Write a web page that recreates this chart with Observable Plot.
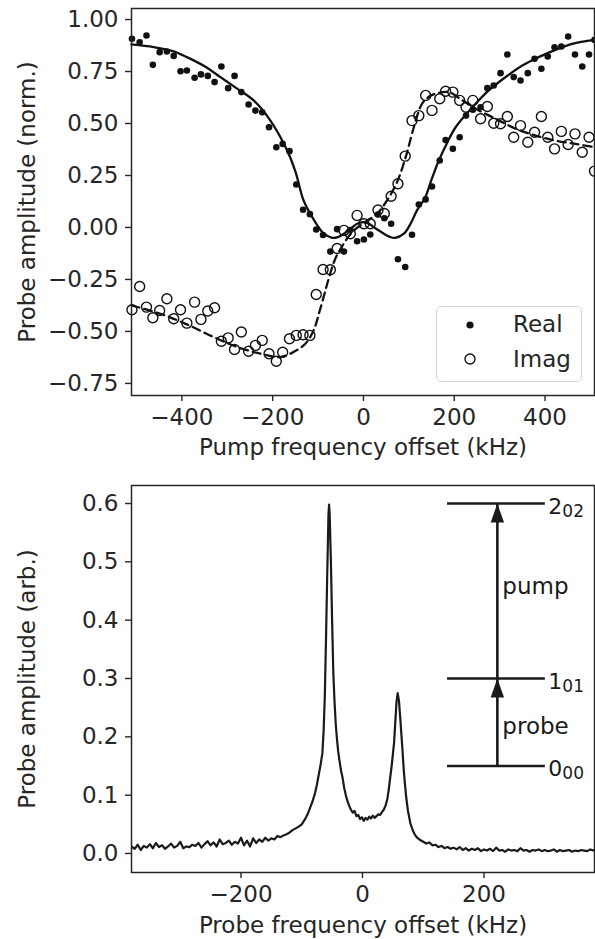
<!DOCTYPE html>
<html><head><meta charset="utf-8">
<script src="https://cdn.jsdelivr.net/npm/d3@7"></script>
<script src="https://cdn.jsdelivr.net/npm/@observablehq/plot@0.6"></script>
<style>
body{margin:0;background:#fff;}
#wrap{position:relative;width:595px;height:939px;font-family:"DejaVu Sans";color:#262626;}
#wrap svg{display:block;}
.legend{position:absolute;left:436px;top:306px;width:144px;height:74px;border:1.5px solid #d4d4d4;border-radius:5px;background:rgba(255,255,255,0.85);}
.legend .lt{position:absolute;left:76px;font-size:23px;line-height:23px;white-space:nowrap;}
.legend svg{position:absolute;left:25px;}
</style></head><body>
<div id="wrap"><div id="topChart"></div><div id="bottomChart"></div>
<div class="legend">
<svg width="16" height="16" style="top:10px"><circle cx="8" cy="8" r="3.6" fill="#111"/></svg>
<div class="lt" style="top:6px">Real</div>
<svg width="16" height="16" style="top:44px"><circle cx="8" cy="8" r="5" fill="none" stroke="#111" stroke-width="1.4"/></svg>
<div class="lt" style="top:41px">Imag</div>
</div></div>
<script>
// ---------- top panel data ----------
const pumpOffsets = [-510,-493,-478,-464,-449,-433,-418,-403,-389,-372,-358,-343,-328,-313,-298,-284,-269,-253,-238,-223,-208,-192,-178,-163,-148,-133,-118,-104,-89,-73,-58,-43,-29,-14,1,15,32,46,61,76,92,107,122,137,151,168,181,197,212,226,241,258,273,287,302,317,331,346,362,377,392,406,421,436,451,466,482,497,509];
const realVals = [0.907,0.891,0.923,0.782,0.843,0.846,0.825,0.751,0.755,0.720,0.736,0.729,0.699,0.774,0.670,0.729,0.651,0.591,0.562,0.554,0.482,0.386,0.402,0.367,0.207,0.085,0.064,-0.010,-0.036,-0.116,-0.008,-0.116,-0.012,-0.066,-0.058,-0.034,0.062,0.044,0.018,-0.153,-0.190,-0.035,0.110,0.135,0.197,0.322,0.421,0.378,0.434,0.538,0.566,0.578,0.670,0.683,0.742,0.832,0.723,0.707,0.742,0.811,0.763,0.822,0.867,0.870,0.918,0.832,0.774,0.832,0.902];
const imagVals = [-0.396,-0.284,-0.383,-0.434,-0.399,-0.343,-0.439,-0.396,-0.460,-0.359,-0.442,-0.402,-0.386,-0.547,-0.531,-0.587,-0.503,-0.595,-0.567,-0.543,-0.607,-0.643,-0.600,-0.535,-0.519,-0.516,-0.519,-0.322,-0.202,-0.203,-0.101,-0.014,-0.030,0.058,0.018,0.018,0.084,0.067,0.150,0.210,0.343,0.514,0.538,0.635,0.563,0.619,0.655,0.651,0.611,0.578,0.611,0.523,0.582,0.501,0.499,0.534,0.434,0.490,0.410,0.458,0.534,0.434,0.378,0.462,0.399,0.450,0.362,0.434,0.271];
const realFitX = [-511,-462,-420,-389,-350,-315,-280,-242,-205,-168,-150,-132,-117,-100,-87,-69,-55,-43,-25,-14,1,12,23,45,58,70,89,103,118,135,150,166,185,203,240,276,313,350,386,423,460,509];
const realFitY = [0.880,0.867,0.848,0.819,0.775,0.723,0.670,0.611,0.514,0.370,0.270,0.130,0.066,0.005,-0.030,-0.050,-0.045,-0.030,0.000,0.018,0.026,0.018,0.001,-0.030,-0.045,-0.050,-0.030,0.015,0.082,0.140,0.230,0.322,0.410,0.482,0.578,0.659,0.723,0.779,0.819,0.854,0.883,0.902];
const imagFitX = [-511,-447,-389,-330,-278,-227,-183,-154,-128,-110,-95,-73,-62,-51,-35,-21,0,15,30,52,74,93,111,129,145,159,188,218,254,291,335,379,423,467,509];
const imagFitY = [-0.375,-0.415,-0.466,-0.527,-0.575,-0.607,-0.623,-0.599,-0.559,-0.495,-0.390,-0.220,-0.150,-0.105,-0.050,-0.014,0.020,0.042,0.066,0.130,0.218,0.338,0.482,0.595,0.630,0.643,0.651,0.611,0.563,0.523,0.475,0.442,0.418,0.402,0.386];
const pumpTicks = [-400,-200,0,200,400];
const normTicks = [-0.75,-0.5,-0.25,0,0.25,0.5,0.75,1.0];
const pumpXLabel = "Pump frequency offset (kHz)";
const normYLabel = "Probe amplitude (norm.)";

// ---------- bottom panel data ----------
const specOffsets = [-380,-375,-370,-365,-360,-355,-350,-345,-340,-335,-330,-325,-320,-315,-310,-305,-300,-295,-290,-285,-280,-275,-270,-265,-260,-255,-250,-245,-240,-235,-230,-225,-220,-215,-210,-205,-200,-195,-190,-185,-180,-175,-170,-165,-160,-155,-150,-145,-140,-135,-130,
-125,-120,-115,-110,-105,-100,-95,-90,-86,-82,-78,-75,-72,-69,-66,-64,-62,-60,-58,-56,-55,-54,-52,-50,-48,-46,-44,-42,-40,-38,-35,-33,-30,-27,-25,-22,-19,-16,-13,-10,-7,-4,-1,2,5,8,11,14,17,20,23,26,29,32,35,38,41,43,45,48,50,52,54,56,58,60,62,64,66,68,70,72,75,79,83,87,90,
95,100,105,110,115,120,125,130,135,140,145,150,155,160,165,170,175,180,185,190,195,200,205,210,215,220,225,230,235,240,245,250,255,260,265,270,275,280,285,290,295,300,305,310,315,320,325,330,335,340,345,350,355,360,365,370,375,380,382];
const specAmps = [0.012,0.008,0.015,0.006,0.013,0.010,0.016,0.009,0.018,0.011,0.014,0.008,0.012,0.017,0.010,0.013,0.020,0.009,0.012,0.011,0.015,0.013,0.018,0.010,0.016,0.021,0.014,0.019,0.012,0.024,0.016,0.018,0.022,0.015,0.020,0.017,0.027,0.014,0.022,0.012,0.026,0.018,0.024,0.020,0.027,0.022,0.026,0.024,0.030,0.028,0.031,
0.033,0.036,0.040,0.043,0.046,0.050,0.058,0.068,0.079,0.090,0.104,0.118,0.135,0.152,0.172,0.210,0.270,0.370,0.480,0.580,0.598,0.582,0.500,0.400,0.310,0.260,0.222,0.196,0.175,0.160,0.140,0.131,0.112,0.098,0.091,0.082,0.075,0.070,0.073,0.064,0.066,0.059,0.062,0.056,0.061,0.058,0.063,0.060,0.065,0.061,0.064,0.067,0.066,0.071,0.075,0.082,0.094,0.108,0.125,0.150,0.170,0.190,0.225,0.260,0.275,0.262,0.235,0.205,0.175,0.142,0.118,0.096,0.072,0.051,0.039,0.031,0.027,
0.023,0.020,0.017,0.019,0.014,0.015,0.011,0.013,0.009,0.011,0.008,0.010,0.007,0.011,0.006,0.009,0.005,0.008,0.006,0.009,0.004,0.007,0.005,0.008,0.004,0.010,0.005,0.006,0.003,0.007,0.005,0.006,0.004,0.009,0.005,0.006,0.003,0.006,0.005,0.007,0.004,0.006,0.004,0.005,0.007,0.003,0.006,0.004,0.005,0.006,0.003,0.005,0.004,0.006,0.005,0.004,0.007,0.005,0.006];
const probeTicks = [-200,0,200];
const arbTicks = [0,0.1,0.2,0.3,0.4,0.5,0.6];
const probeXLabel = "Probe frequency offset (kHz)";
const arbYLabel = "Probe amplitude (arb.)";
// energy-level inset
const levelNames = ["0","1","2"];
const levelSubs = ["00","01","02"];
const levelEnergies = [0.15,0.30,0.60];
const levelXStart = 140, levelXEnd = 301, arrowX = 222;
const transNames = ["probe","pump"];
const transFrom = [0.15,0.30];
const transTo = [0.30,0.60];
const transLabelY = [0.218,0.458];

const ink = "#262626", dataInk = "#111";
const font = {fontFamily: "DejaVu Sans", fontSize: "23px", color: ink, background: "white", overflow: "visible"};
const headSymbol = {draw(ctx){ ctx.moveTo(0,0); ctx.lineTo(6.7,19); ctx.lineTo(-6.7,19); ctx.closePath(); }};

const topPlot = Plot.plot({
  width: 595, height: 470,
  marginLeft: 131, marginRight: 1, marginTop: 8, marginBottom: 75,
  x: {domain: [-511, 509]},
  y: {domain: [-0.808, 1.053]},
  style: font,
  marks: [
    Plot.axisX({ticks: pumpTicks, tickSize: 6, tickPadding: 7, fontSize: 23, strokeWidth: 1.4, label: null, tickFormat: d3.format("d")}),
    Plot.axisY({ticks: normTicks, tickSize: 6, tickPadding: 7, fontSize: 23, strokeWidth: 1.4, label: null, tickFormat: d3.format(".2f")}),
    Plot.line(realFitY, {x: realFitX, y: realFitY, curve: "catmull-rom", stroke: dataInk, strokeWidth: 2.3}),
    Plot.line(imagFitY, {x: imagFitX, y: imagFitY, curve: "catmull-rom", stroke: dataInk, strokeWidth: 2.3, strokeDasharray: "8,5"}),
    Plot.dot(realVals, {x: pumpOffsets, y: realVals, r: 3.3, fill: dataInk, stroke: "none"}),
    Plot.dot(imagVals, {x: pumpOffsets, y: imagVals, r: 5, fill: "none", stroke: dataInk, strokeWidth: 1.4}),
    Plot.frame({stroke: ink, strokeWidth: 1.5}),
    Plot.text([pumpXLabel], {frameAnchor: "bottom", dy: 52, textAnchor: "middle", lineAnchor: "middle", fontSize: 23, fill: ink}),
    Plot.text([normYLabel], {frameAnchor: "left", dx: -103.5, rotate: -90, textAnchor: "middle", lineAnchor: "middle", fontSize: 23, fill: ink})
  ]
});
document.getElementById("topChart").append(topPlot);

const bottomPlot = Plot.plot({
  width: 595, height: 469,
  marginLeft: 131, marginRight: 1, marginTop: 15, marginBottom: 67,
  x: {domain: [-380.2, 381.9]},
  y: {domain: [-0.0326, 0.6309]},
  style: font,
  marks: [
    Plot.axisX({ticks: probeTicks, tickSize: 6, tickPadding: 7, fontSize: 23, strokeWidth: 1.4, label: null, tickFormat: d3.format("d")}),
    Plot.axisY({ticks: arbTicks, tickSize: 6, tickPadding: 7, fontSize: 23, strokeWidth: 1.4, label: null, tickFormat: d3.format(".1f")}),
    Plot.line(specAmps, {x: specOffsets, y: specAmps, stroke: "#1a1a1a", strokeWidth: 2.2, clip: true}),
    Plot.ruleY(levelEnergies, {y: levelEnergies, x1: () => levelXStart, x2: () => levelXEnd, stroke: "#1a1a1a", strokeWidth: 2.6}),
    Plot.link(transNames, {x1: () => arrowX, x2: () => arrowX, y1: transFrom, y2: transTo, stroke: "#1a1a1a", strokeWidth: 2.6}),
    Plot.dot(transNames, {x: () => arrowX, y: transTo, symbol: headSymbol, r: 5, fill: "#1a1a1a", stroke: "none"}),
    Plot.text(transNames, {x: () => arrowX, y: transLabelY, text: transNames, textAnchor: "start", dx: 5, fontSize: 23, fill: "#1a1a1a"}),
    Plot.text(levelNames, {x: () => levelXEnd, y: levelEnergies, text: levelNames, textAnchor: "start", dx: 3, dy: 3, fontSize: 22, fill: "#1a1a1a"}),
    Plot.text(levelSubs, {x: () => levelXEnd, y: levelEnergies, text: levelSubs, textAnchor: "start", dx: 17, dy: 8, fontSize: 17, fill: "#1a1a1a"}),
    Plot.frame({stroke: ink, strokeWidth: 1.5}),
    Plot.text([probeXLabel], {frameAnchor: "bottom", dy: 53, textAnchor: "middle", lineAnchor: "middle", fontSize: 23, fill: ink}),
    Plot.text([arbYLabel], {frameAnchor: "left", dx: -103.5, rotate: -90, textAnchor: "middle", lineAnchor: "middle", fontSize: 23, fill: ink})
  ]
});
document.getElementById("bottomChart").append(bottomPlot);
</script></body></html>
